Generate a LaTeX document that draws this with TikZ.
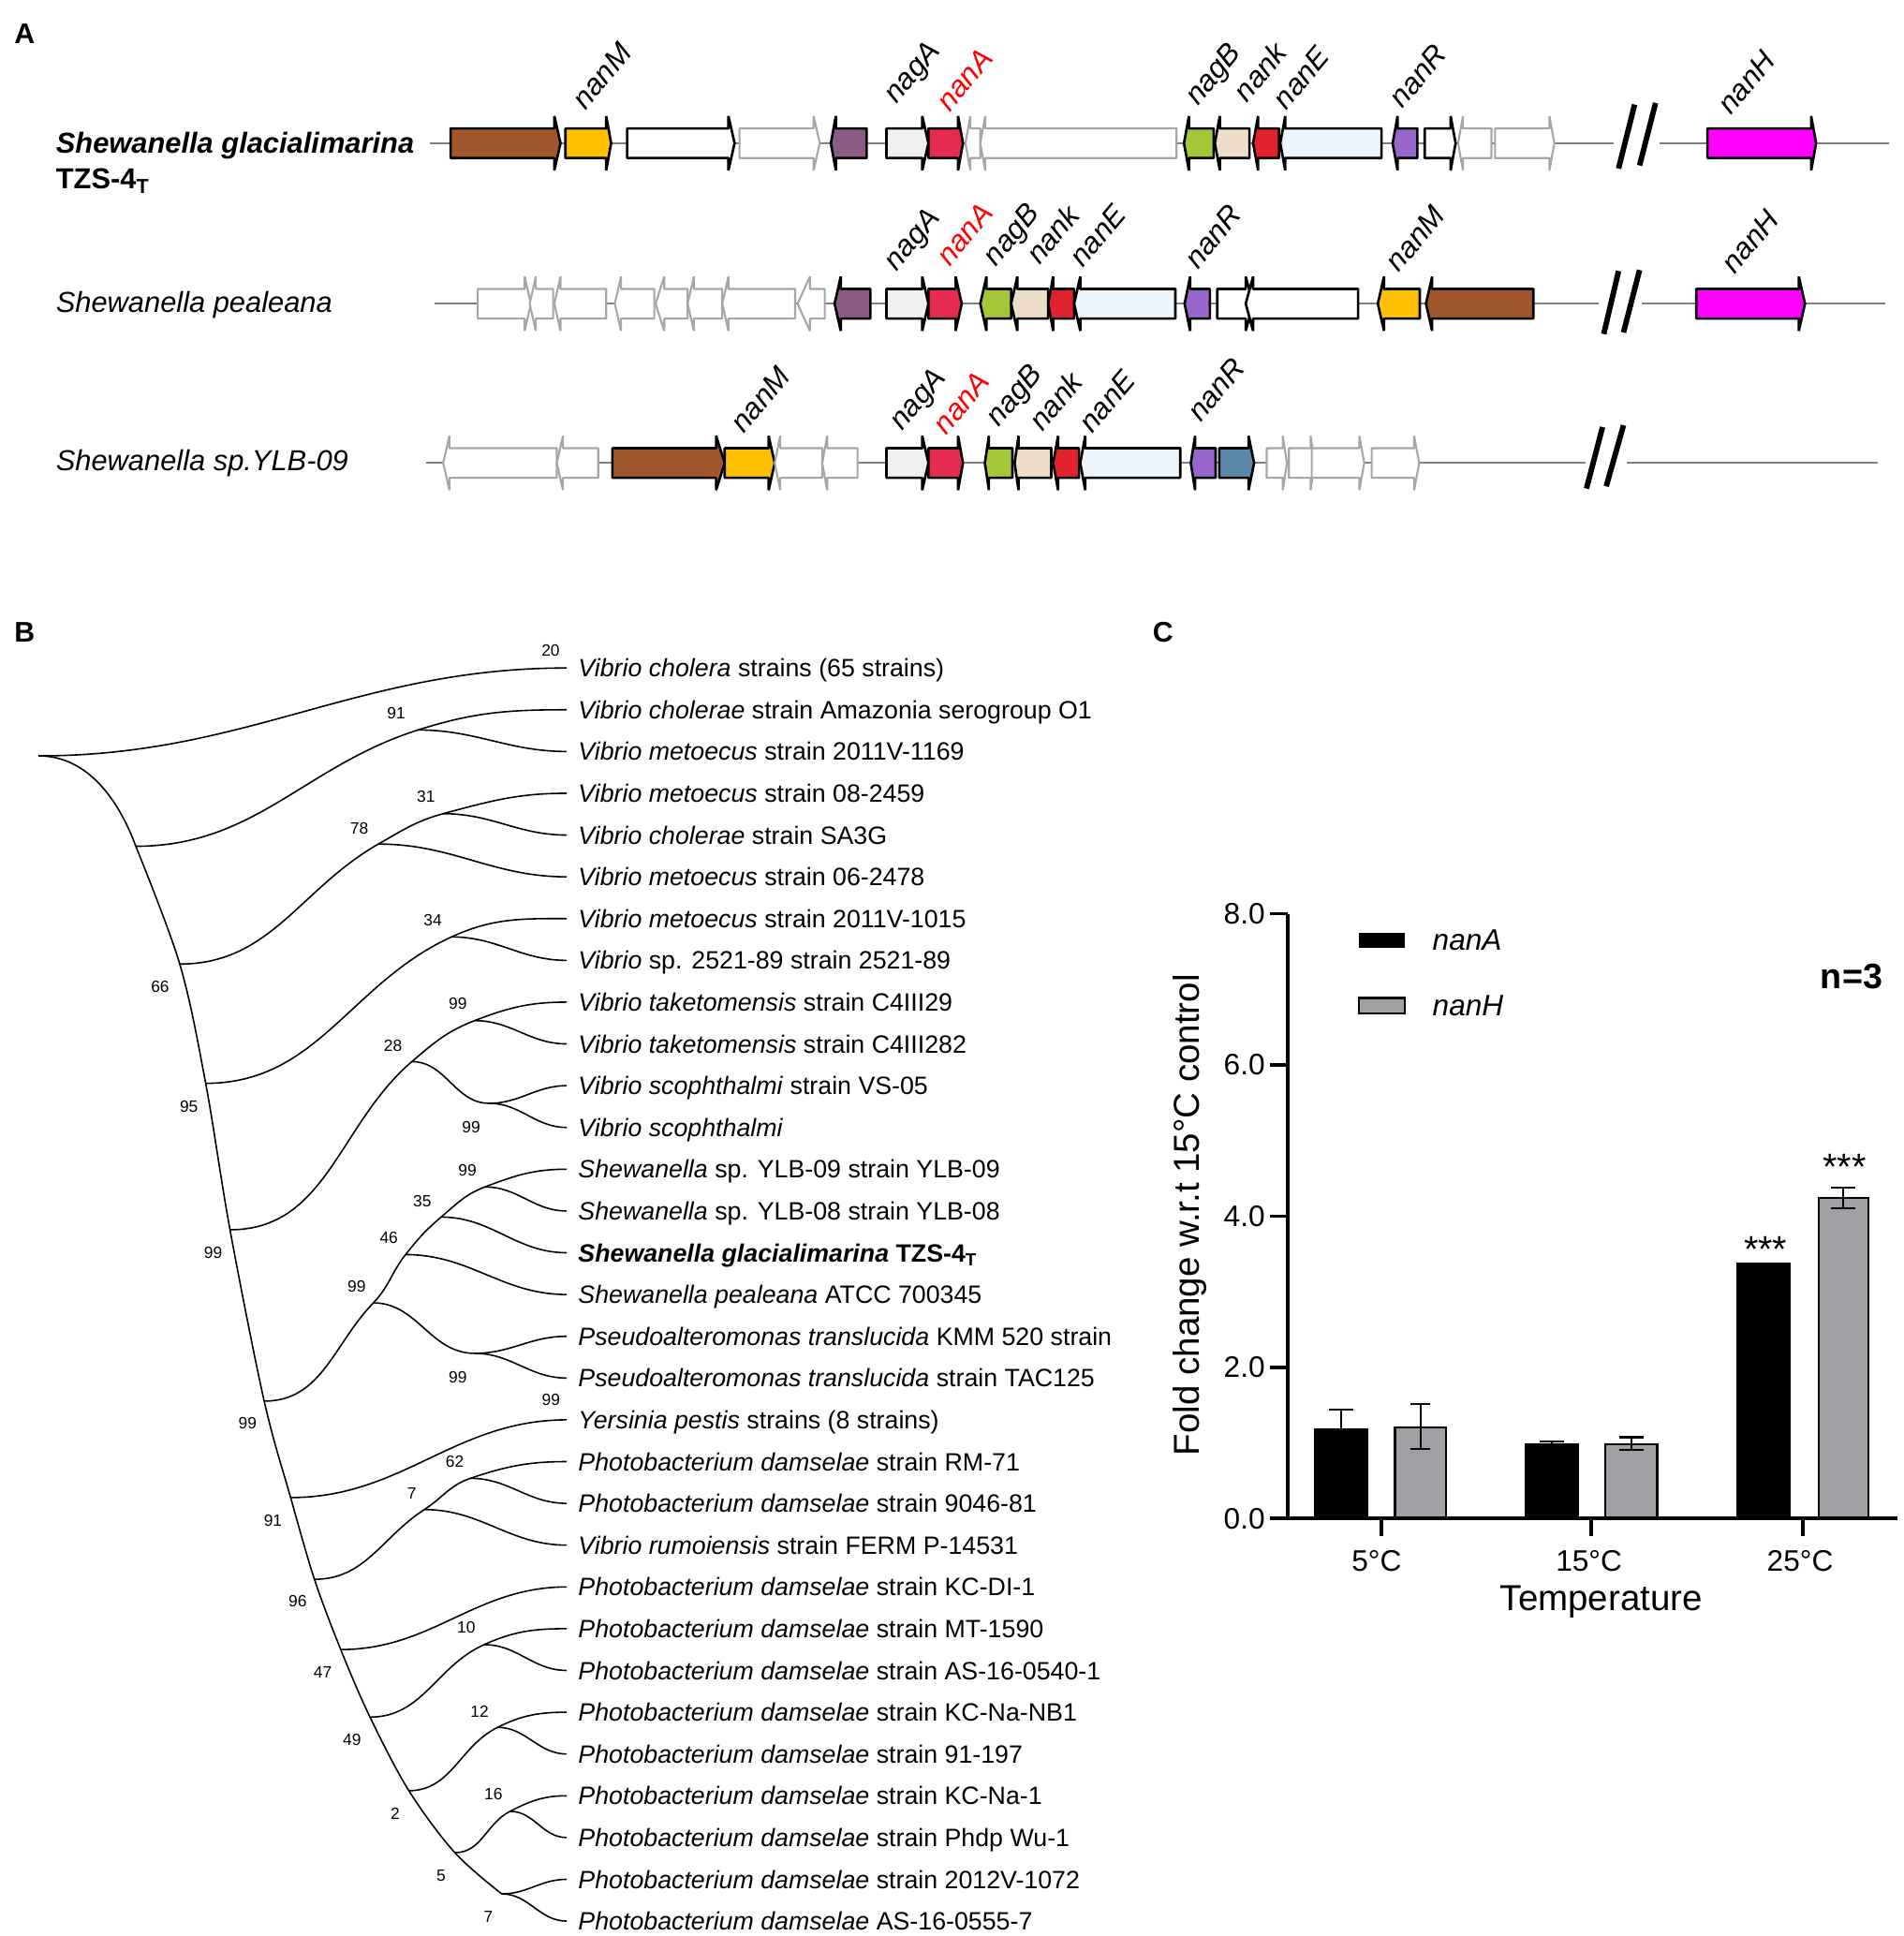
\documentclass[tikz,border=0pt]{standalone}
\usepackage{fontspec}
\setmainfont{Liberation Sans}
\usetikzlibrary{calc}
\definecolor{cbrown}{HTML}{A0572B}
\definecolor{cyellow}{HTML}{FFC000}
\definecolor{cpurple}{HTML}{8E5B86}
\definecolor{cnagA}{HTML}{F0F0F2}
\definecolor{cnanA}{HTML}{E62B50}
\definecolor{cgreen}{HTML}{A4C639}
\definecolor{cbeige}{HTML}{EEDDCB}
\definecolor{cred}{HTML}{E3222F}
\definecolor{clblue}{HTML}{EEF6FD}
\definecolor{clav}{HTML}{9966CC}
\definecolor{cmag}{HTML}{FF00FF}
\definecolor{csteel}{HTML}{5B87A8}
\definecolor{cgrayo}{HTML}{A6A6A6}
\definecolor{cbar}{HTML}{A0A0A4}
\newcommand{\genearrow}[5]{\filldraw[#5] (#1,#4-12) -- (#2,#4-12) -- (#2,#4-22) -- (#3,#4) -- (#2,#4+22) -- (#2,#4+12) -- (#1,#4+12) -- cycle;}
\begin{document}
\begin{tikzpicture}[x=0.5pt,y=-0.5pt,
 cg/.style={fill=#1, draw=black, line width=1pt, line join=bevel},
 og/.style={fill=white, draw=cgrayo, line width=0.8pt, line join=bevel},
 bline/.style={draw=gray, line width=0.8pt},
 brk/.style={line width=2.2pt},
 glab/.style={xshift=4pt, yshift=-1.5pt, rotate=50, anchor=base west, inner sep=0pt, font=\fontsize{12}{14}\selectfont\itshape},
 sp/.style={anchor=base west, inner sep=0pt, font=\fontsize{11.7}{14}\selectfont},
 br/.style={line width=0.6pt},
 leaf/.style={anchor=west, inner xsep=4.5pt, inner ysep=0pt, text height=7.3pt, text depth=0pt, font=\fontsize{10.15}{12}\selectfont},
 bs/.style={font=\fontsize{6.6}{8}\selectfont, inner sep=0pt},
 ax/.style={line width=1.5pt},
 panel/.style={font=\fontsize{11.5}{13}\selectfont\bfseries, inner sep=0pt},
 tick/.style={font=\fontsize{12}{14}\selectfont, inner sep=0pt},
 title/.style={font=\fontsize{14.6}{17}\selectfont, inner sep=0pt}
]
\useasboundingbox (0,0) rectangle (1542,1568);
\fill[white] (0,0) rectangle (1542,1568);

% ---------------- Panel A ----------------
\node[panel] (pA) at (20,27) {A};

% Row 1
\draw[bline] (348,116) -- (1307,116);
\draw[bline] (1344,116) -- (1530,116);
\genearrow{365}{449}{454}{116}{cg=cbrown}
\genearrow{458}{491}{495}{116}{cg=cyellow}
\genearrow{508}{590}{595}{116}{cg=white}
\genearrow{599}{659}{664}{116}{og}
\genearrow{702}{677}{673}{116}{cg=cpurple}
\genearrow{718}{747}{752}{116}{cg=cnagA}
\genearrow{752}{776}{780}{116}{cg=cnanA}
\genearrow{794}{786}{782}{116}{og}
\genearrow{953}{798}{794}{116}{og}
\genearrow{983}{963}{959}{116}{cg=cgreen}
\genearrow{1012}{988}{984}{116}{cg=cbeige}
\genearrow{1036}{1019}{1015}{116}{cg=cred}
\genearrow{1119}{1041}{1037}{116}{cg=clblue}
\genearrow{1148}{1132}{1128}{116}{cg=clav}
\genearrow{1154}{1175}{1179}{116}{cg=white}
\genearrow{1208}{1185}{1181}{116}{og}
\genearrow{1211}{1255}{1259}{116}{og}
\genearrow{1383}{1467}{1471}{116}{cg=cmag}
\draw[brk] (1311,136.5) -- (1324,84.7);
\draw[brk] (1328,134) -- (1341,83.4);
\node[glab] (a1) at (466,87) {nanM};
\node[glab] (a2) at (718,82) {nagA};
\node[glab,text=red] (a3) at (761,88.5) {nanA};
\node[glab] (a4) at (962,83.4) {nagB};
\node[glab] (a5) at (1002,81) {nank};
\node[glab] (a6) at (1034,87) {nanE};
\node[glab] (a7) at (1128,86) {nanR};
\node[glab] (a8) at (1394,91) {nanH};
\node[sp,font=\fontsize{11.7}{14}\selectfont\bfseries\itshape] (s1) at (45,124) {Shewanella glacialimarina};
\node[sp,font=\fontsize{11.7}{14}\selectfont\bfseries] (s1b) at (45,153) {TZS-4\textsubscript{T}};

% Row 2
\draw[bline] (352,246) -- (1295,246);
\draw[bline] (1330,246) -- (1527,246);
\genearrow{387}{425}{430}{246}{og}
\genearrow{448}{434}{429}{246}{og}
\genearrow{491}{454}{449}{246}{og}
\genearrow{530}{503}{498}{246}{og}
\genearrow{557}{538}{531}{246}{og}
\genearrow{585}{562}{557}{246}{og}
\genearrow{644}{590}{585}{246}{og}
\genearrow{668}{656}{646}{246}{og}
\genearrow{705}{681}{676}{246}{cg=cpurple}
\genearrow{718}{747}{752}{246}{cg=cnagA}
\genearrow{752}{774}{779}{246}{cg=cnanA}
\genearrow{819}{799}{794}{246}{cg=cgreen}
\genearrow{849}{824}{819}{246}{cg=cbeige}
\genearrow{870}{853}{849}{246}{cg=cred}
\genearrow{952}{875}{870}{246}{cg=clblue}
\genearrow{980}{964}{959.5}{246}{cg=clav}
\genearrow{986}{1009}{1015}{246}{cg=white}
\genearrow{1100}{1015}{1009}{246}{cg=white}
\genearrow{1150}{1121}{1116}{246}{cg=cyellow}
\genearrow{1242}{1160}{1155}{246}{cg=cbrown}
\genearrow{1374}{1457}{1462}{246}{cg=cmag}
\draw[brk] (1299,270.5) -- (1311,219.5);
\draw[brk] (1315,269.3) -- (1328,218.7);
\node[glab] (b1) at (718,217.5) {nagA};
\node[glab,text=red] (b2) at (761,213.6) {nanA};
\node[glab] (b3) at (798.7,213.6) {nagB};
\node[glab] (b4) at (834,212.4) {nank};
\node[glab] (b5) at (869,214.9) {nanE};
\node[glab] (b6) at (962,216) {nanR};
\node[glab] (b7) at (1125,218.7) {nanM};
\node[glab] (b8) at (1397,219.9) {nanH};
\node[sp,font=\fontsize{11.7}{14}\selectfont\itshape] (s2) at (45,253) {Shewanella pealeana};

% Row 3
\draw[bline] (345,375) -- (1284,375);
\draw[bline] (1318,375) -- (1521,375);
\genearrow{451}{364}{359}{375}{og}
\genearrow{484.5}{456}{451}{375}{og}
\genearrow{496}{580}{587}{375}{cg=cbrown}
\genearrow{587}{622.6}{627.5}{375}{cg=cyellow}
\genearrow{666}{632}{627.5}{375}{og}
\genearrow{694.6}{670}{666}{375}{og}
\genearrow{718}{747}{752}{375}{cg=cnagA}
\genearrow{752}{776}{780}{375}{cg=cnanA}
\genearrow{820}{801}{797.7}{375}{cg=cgreen}
\genearrow{851.5}{825}{821.8}{375}{cg=cbeige}
\genearrow{874}{857}{853}{375}{cg=cred}
\genearrow{956}{879}{875}{375}{cg=clblue}
\genearrow{984.6}{968}{964.5}{375}{cg=clav}
\genearrow{987.6}{1011.3}{1015.8}{375}{cg=csteel}
\genearrow{1026}{1039}{1042.4}{375}{og}
\genearrow{1044}{1061.5}{1065}{375}{og}
\genearrow{1062.5}{1101}{1105}{375}{og}
\genearrow{1111}{1145.4}{1149.5}{375}{og}
\draw[brk] (1285,395.7) -- (1298,345.9);
\draw[brk] (1301,393.9) -- (1315,344.4);
\node[glab] (c1) at (594.5,348.9) {nanM};
\node[glab] (c2) at (722.7,346.9) {nagA};
\node[glab,text=red] (c3) at (758.5,350.2) {nanA};
\node[glab] (c4) at (801,343.9) {nagB};
\node[glab] (c5) at (836.4,347.6) {nank};
\node[glab] (c6) at (876.6,348.9) {nanE};
\node[glab] (c7) at (964.5,340) {nanR};
\node[sp,font=\fontsize{11.7}{14}\selectfont\itshape] (s3) at (45,381) {Shewanella sp.YLB-09};

% ---------------- Panel B ----------------
\node[panel] (pB) at (20,512) {B};

\node[leaf] (L1) at (459,541) {\textit{Vibrio cholera} strains (65 strains)};
\node[leaf] (L2) at (459,574.83) {\textit{Vibrio cholerae} strain Amazonia serogroup O1};
\node[leaf] (L3) at (459,608.66) {\textit{Vibrio metoecus} strain 2011V-1169};
\node[leaf] (L4) at (459,642.49) {\textit{Vibrio metoecus} strain 08-2459};
\node[leaf] (L5) at (459,676.32) {\textit{Vibrio cholerae} strain SA3G};
\node[leaf] (L6) at (459,710.15) {\textit{Vibrio metoecus} strain 06-2478};
\node[leaf] (L7) at (459,743.98) {\textit{Vibrio metoecus} strain 2011V-1015};
\node[leaf] (L8) at (459,777.81) {\textit{Vibrio} sp. 2521-89 strain 2521-89};
\node[leaf] (L9) at (459,811.64) {\textit{Vibrio taketomensis} strain C4III29};
\node[leaf] (L10) at (459,845.47) {\textit{Vibrio taketomensis} strain C4III282};
\node[leaf] (L11) at (459,879.3) {\textit{Vibrio scophthalmi} strain VS-05};
\node[leaf] (L12) at (459,913.13) {\textit{Vibrio scophthalmi}};
\node[leaf] (L13) at (459,946.96) {\textit{Shewanella} sp. YLB-09 strain YLB-09};
\node[leaf] (L14) at (459,980.79) {\textit{Shewanella} sp. YLB-08 strain YLB-08};
\node[leaf] (L15) at (459,1014.62) {\textbf{\textit{Shewanella glacialimarina} TZS-4\textsubscript{T}}};
\node[leaf] (L16) at (459,1048.45) {\textit{Shewanella pealeana} ATCC 700345};
\node[leaf] (L17) at (459,1082.28) {\textit{Pseudoalteromonas translucida} KMM 520 strain};
\node[leaf] (L18) at (459,1116.11) {\textit{Pseudoalteromonas translucida} strain TAC125};
\node[leaf] (L19) at (459,1149.94) {\textit{Yersinia pestis} strains (8 strains)};
\node[leaf] (L20) at (459,1183.77) {\textit{Photobacterium damselae} strain RM-71};
\node[leaf] (L21) at (459,1217.6) {\textit{Photobacterium damselae} strain 9046-81};
\node[leaf] (L22) at (459,1251.43) {\textit{Vibrio rumoiensis} strain FERM P-14531};
\node[leaf] (L23) at (459,1285.26) {\textit{Photobacterium damselae} strain KC-DI-1};
\node[leaf] (L24) at (459,1319.09) {\textit{Photobacterium damselae} strain MT-1590};
\node[leaf] (L25) at (459,1352.92) {\textit{Photobacterium damselae} strain AS-16-0540-1};
\node[leaf] (L26) at (459,1386.75) {\textit{Photobacterium damselae} strain KC-Na-NB1};
\node[leaf] (L27) at (459,1420.58) {\textit{Photobacterium damselae} strain 91-197};
\node[leaf] (L28) at (459,1454.41) {\textit{Photobacterium damselae} strain KC-Na-1};
\node[leaf] (L29) at (459,1488.24) {\textit{Photobacterium damselae} strain Phdp Wu-1};
\node[leaf] (L30) at (459,1522.07) {\textit{Photobacterium damselae} strain 2012V-1072};
\node[leaf] (L31) at (459,1555.9) {\textit{Photobacterium damselae} AS-16-0555-7};

% backbone nodes
\coordinate (root) at (31.2,612.2);
\coordinate (n1) at (110,685.4);
\coordinate (n2) at (145.6,780.8);
\coordinate (n3) at (166.6,877.4);
\coordinate (n4) at (186.3,996);
\coordinate (n5) at (214,1134.8);
\coordinate (n6) at (235.4,1212.9);
\coordinate (n7) at (254.7,1279.1);
\coordinate (n8) at (276,1336);
\coordinate (n9) at (299.7,1390.7);
\coordinate (n10) at (331.2,1450.3);
\coordinate (n11) at (368.4,1500.5);
\coordinate (n12) at (406.4,1533.9);
% internal nodes
\coordinate (c91) at (338.6,591.2);
\coordinate (c78) at (306.5,683.6);
\coordinate (c31) at (359,659);
\coordinate (c34) at (365.7,758.8);
\coordinate (c28) at (333.6,859.8);
\coordinate (c99a) at (384.4,826.6);
\coordinate (c99b) at (396.2,893.6);
\coordinate (c99c) at (302.4,1055.2);
\coordinate (c46) at (328.5,1016.1);
\coordinate (c35) at (357.3,985.7);
\coordinate (c99d) at (392.8,961.3);
\coordinate (c99e) at (384.4,1096.1);
\coordinate (c7) at (343.7,1222.6);
\coordinate (c62) at (381,1197.3);
\coordinate (c10) at (392.1,1332);
\coordinate (c12) at (403,1399);
\coordinate (c16) at (413.1,1467);

% backbone
\draw[br] (root) .. controls (72,612) and (97,650) .. (n1);
\draw[br] plot[smooth,tension=0.55] coordinates {(n1) (n2) (n3) (n4) (n5) (n6) (n7) (n8) (n9) (n10) (n11) (n12)};

% upper chains (smooth through internal nodes)
\draw[br] (root) to[out=0,in=180] (L1.west);
\draw[br] (n1) to[out=0,in=197.6] (c91) to[out=17.6,in=180] (L2.west);
\draw[br] (n2) to[out=0,in=209.7] (c78) to[out=29.7,in=195.1] (c31) to[out=15.1,in=180] (L4.west);
\draw[br] (n3) to[out=0,in=204.5] (c34) to[out=24.5,in=180] (L7.west);
\draw[br] (n4) to[out=0,in=220.5] (c28) to[out=40.5,in=201] (c99a) to[out=21,in=180] (L9.west);
\draw[br] (n5) to[out=0,in=226] (c99c) to[out=46,in=231.7] (c46) to[out=51.7,in=220.4] (c35) to[out=40.4,in=200.8] (c99d) to[out=20.8,in=180] (L13.west);
\draw[br] (n6) to[out=0,in=180] (L19.west);
\draw[br] (n7) to[out=0,in=212.9] (c7) to[out=32.9,in=198.6] (c62) to[out=18.6,in=180] (L20.west);
\draw[br] (n8) to[out=0,in=180] (L23.west);
\draw[br] (n9) to[out=0,in=204.2] (c10) to[out=24.2,in=180] (L24.west);
\draw[br] (n10) to[out=0,in=206.4] (c12) to[out=26.4,in=180] (L26.west);
\draw[br] (n11) to[out=0,in=207] (c16) to[out=27,in=180] (L28.west);
\draw[br] (n12) to[out=0,in=180] (L30.west);

% lower children
\draw[br] (c91) to[out=0,in=180] (L3.west);
\draw[br] (c31) to[out=0,in=180] (L5.west);
\draw[br] (c78) to[out=0,in=180] (L6.west);
\draw[br] (c34) to[out=0,in=180] (L8.west);
\draw[br] (c99a) to[out=0,in=180] (L10.west);
\draw[br] (c28) to[out=0,in=180] (c99b);
\draw[br] (c99b) to[out=0,in=180] (L11.west);
\draw[br] (c99b) to[out=0,in=180] (L12.west);
\draw[br] (c99d) to[out=0,in=180] (L14.west);
\draw[br] (c35) to[out=0,in=180] (L15.west);
\draw[br] (c46) to[out=0,in=180] (L16.west);
\draw[br] (c99c) to[out=0,in=180] (c99e);
\draw[br] (c99e) to[out=0,in=180] (L17.west);
\draw[br] (c99e) to[out=0,in=180] (L18.west);
\draw[br] (c62) to[out=0,in=180] (L21.west);
\draw[br] (c7) to[out=0,in=180] (L22.west);
\draw[br] (c10) to[out=0,in=180] (L25.west);
\draw[br] (c12) to[out=0,in=180] (L27.west);
\draw[br] (c16) to[out=0,in=180] (L29.west);
\draw[br] (n12) to[out=0,in=180] (L31.west);

% bootstrap values
\node[bs] (v1) at (446,527) {20};
\node[bs] (v2) at (321,578) {91};
\node[bs] (v3) at (345,645) {31};
\node[bs] (v4) at (291,670.8) {78};
\node[bs] (v5) at (129.7,799.5) {66};
\node[bs] (v6) at (350.5,745.3) {34};
\node[bs] (v7) at (153,896) {95};
\node[bs] (v8) at (370.8,813) {99};
\node[bs] (v9) at (318.3,846.9) {28};
\node[bs] (v10) at (381.6,912.9) {99};
\node[bs] (v11) at (172.7,1014.5) {99};
\node[bs] (v12) at (378.6,947.8) {99};
\node[bs] (v13) at (342,973.2) {35};
\node[bs] (v14) at (315,1002.7) {46};
\node[bs] (v15) at (288.9,1042.2) {99};
\node[bs] (v16) at (370.8,1115.4) {99};
\node[bs] (v17) at (200.5,1152.6) {99};
\node[bs] (v18) at (446.3,1134) {99};
\node[bs] (v19) at (221.1,1231.9) {91};
\node[bs] (v20) at (368.4,1183.5) {62};
\node[bs] (v21) at (333.6,1209.2) {7};
\node[bs] (v22) at (241.1,1297) {96};
\node[bs] (v23) at (377.6,1318.2) {10};
\node[bs] (v24) at (261.4,1354.7) {47};
\node[bs] (v25) at (388.4,1385.9) {12};
\node[bs] (v26) at (285.1,1409.3) {49};
\node[bs] (v27) at (399.6,1452.9) {16};
\node[bs] (v28) at (320,1468.9) {2};
\node[bs] (v29) at (357.3,1519.1) {5};
\node[bs] (v30) at (395.5,1552.6) {7};

% ---------------- Panel C ----------------
\node[panel] (pC) at (942,512) {C};

% bars
\filldraw[fill=black, draw=black, line width=0.8pt] (1065.4,1230) rectangle (1107.7,1157.8);
\filldraw[fill=cbar, draw=black, line width=0.8pt] (1129.9,1230) rectangle (1171.4,1155.8);
\filldraw[fill=black, draw=black, line width=0.8pt] (1235.9,1230) rectangle (1278.2,1169.7);
\filldraw[fill=cbar, draw=black, line width=0.8pt] (1300.4,1230) rectangle (1342.3,1169.7);
\filldraw[fill=black, draw=black, line width=0.8pt] (1407.2,1230) rectangle (1449.5,1023);
\filldraw[fill=cbar, draw=black, line width=0.8pt] (1472.9,1230) rectangle (1513.2,970.5);

% error bars
\draw[line width=0.9pt] (1086.5,1157.8) -- (1086.5,1141.5) (1076.5,1141.5) -- (1096.5,1141.5);
\draw[line width=0.9pt] (1150.6,1173.6) -- (1150.6,1137.3) (1142.6,1137.3) -- (1158.6,1137.3) (1142.6,1173.6) -- (1158.6,1173.6);
\draw[line width=0.9pt] (1257,1169.7) -- (1257,1167.4) (1247,1167.4) -- (1267,1167.4);
\draw[line width=0.9pt] (1321.4,1174.4) -- (1321.4,1164) (1311.4,1164) -- (1331.4,1164) (1311.4,1174.4) -- (1331.4,1174.4);
\draw[line width=0.9pt] (1493,978.6) -- (1493,962) (1483,962) -- (1503,962) (1483,978.6) -- (1503,978.6);

% axes
\draw[ax] (1043,740) -- (1043,1230) -- (1537,1230);
\foreach \v/\t in {0/0.0,1/2.0,2/4.0,3/6.0,4/8.0}{
  \draw[ax] (1029,{1230-122.5*\v}) -- (1043,{1230-122.5*\v});
  \node[tick,anchor=east] (yt\v) at (1025,{1230-122.5*\v}) {\t};
}
\draw[ax] (1118.6,1230) -- (1118.6,1244);
\draw[ax] (1289,1230) -- (1289,1244);
\draw[ax] (1460.4,1230) -- (1460.4,1244);
\node[tick] (xt1) at (1115,1264) {5°C};
\node[tick] (xt2) at (1287,1264) {15°C};
\node[tick] (xt3) at (1458,1264) {25°C};
\node[title] (xtitle) at (1297,1297) {Temperature};
\node[title,rotate=90] (ytitle) at (964,984) {Fold change w.r.t 15°C control};

% legend
\fill[black] (1100.4,755.4) rectangle (1137.9,767.8);
\filldraw[fill=cbar, draw=black, line width=0.8pt] (1100.4,808.3) rectangle (1137.9,820.7);
\node[tick,anchor=west,font=\fontsize{12}{14}\selectfont\itshape] (lg1) at (1160,761.6) {nanA};
\node[tick,anchor=west,font=\fontsize{12}{14}\selectfont\itshape] (lg2) at (1160,814.5) {nanH};
\node[inner sep=0pt,font=\fontsize{14.3}{16}\selectfont\bfseries] (nn) at (1499.7,791) {n=3};
\node[inner sep=0pt,anchor=base,font=\fontsize{15}{17}\selectfont] (st1) at (1430,1022) {***};
\node[inner sep=0pt,anchor=base,font=\fontsize{15}{17}\selectfont] (st2) at (1494,955.5) {***};
\end{tikzpicture}
\end{document}
